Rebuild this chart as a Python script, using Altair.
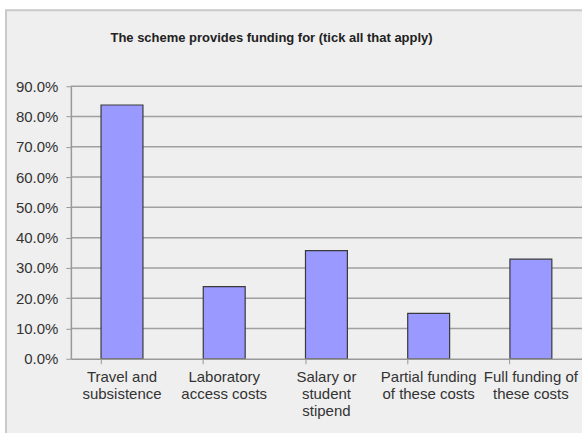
import altair as alt
import pandas as pd

categories = ["Travel and\nsubsistence", "Laboratory\naccess costs", "Salary or\nstudent\nstipend",
              "Partial funding\nof these costs", "Full funding of\nthese costs"]
values = [0.838, 0.238, 0.357, 0.150, 0.329]
grid_values = [0.1, 0.2, 0.3, 0.4, 0.5, 0.6, 0.7, 0.8, 0.9]
y_ticks = [0, 0.1, 0.2, 0.3, 0.4, 0.5, 0.6, 0.7, 0.8, 0.9]
title_text = "The scheme provides funding for (tick all that apply)"

df = pd.DataFrame({"cat": categories, "val": values})
grid_df = pd.DataFrame({"g": grid_values})

W, H = 512, 273

y_scale = alt.Scale(domain=[0, 0.9], nice=False)
y_axis = alt.Axis(title=None, format=".1%", values=y_ticks,
                  grid=False, labelFont="Liberation Sans", labelFontSize=15,
                  labelColor="#333333", labelPadding=8, tickSize=5,
                  tickColor="#999999", domainColor="#999999", domainWidth=1.5,
                  labelOverlap=False, labelFlush=False, zindex=1)

frame = alt.Chart(pd.DataFrame({"a": [0]})).mark_rect(
    fill="#efefef", stroke="#c9c9c9", strokeWidth=2, clip=False
).encode(
    x=alt.value(-65), x2=alt.value(W + 30), y=alt.value(-76), y2=alt.value(H + 120)
)

grid = alt.Chart(grid_df).mark_rule(color="#a0a0a0", strokeWidth=1.5).encode(
    y=alt.Y("g:Q", scale=y_scale, axis=y_axis),
    x=alt.value(0), x2=alt.value(W + 10)
)

bars = alt.Chart(df).mark_bar(
    color="#9999ff", stroke="#3a3a3a", strokeWidth=1.2
).encode(
    x=alt.X("cat:N", sort=categories,
            scale=alt.Scale(paddingInner=0.59, paddingOuter=0.295),
            axis=alt.Axis(title=None, labelAngle=0, bandPosition=0,
                          labelExpr="split(datum.label, '\\n')",
                          labelFont="Liberation Sans", labelFontSize=15,
                          labelColor="#333333", labelLineHeight=17,
                          labelPadding=6, tickSize=5, tickColor="#999999",
                          domainColor="#999999", domainWidth=1.5,
                          labelBaseline="top", labelOverlap=False, zindex=1)),
    y=alt.Y("val:Q", scale=y_scale, axis=y_axis),
)

title = alt.Chart(pd.DataFrame({"t": [title_text]})).mark_text(
    align="center", baseline="alphabetic", font="Liberation Sans",
    fontSize=13, color="#222222", fontWeight="bold"
).encode(
    x=alt.value(201), y=alt.value(-44), text="t:N"
)

chart = alt.layer(frame, grid, bars, title).properties(
    width=W, height=H,
    autosize=alt.AutoSizeParams(type="none"),
    padding={"left": 71, "top": 86, "right": 0, "bottom": 74},
    background="white",
).configure_view(stroke=None)

chart.save("out.html", embed_options={"renderer": "svg", "actions": False})
